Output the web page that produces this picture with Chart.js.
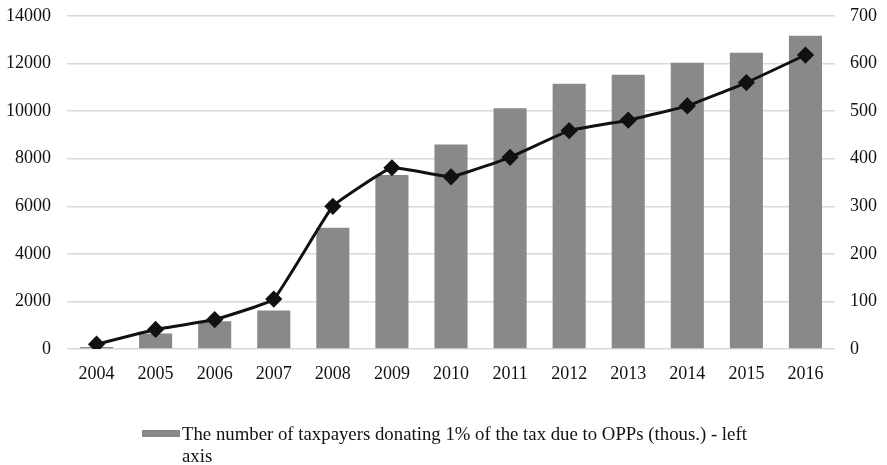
<!DOCTYPE html>
<html>
<head>
<meta charset="utf-8">
<script src="https://cdn.jsdelivr.net/npm/chart.js@4/dist/chart.umd.min.js"></script>
<style>
  html, body { margin: 0; padding: 0; background: #fff; }
  #wrap { position: relative; width: 887px; height: 465px; overflow: hidden; }
  #legend { position: absolute; left: 142px; top: 423px; font-family: "Liberation Serif", "Times New Roman", serif; font-size: 18.8px; line-height: 22px; color: #111; }
  #legend .sw { position: absolute; left: 0; top: 7px; width: 38px; height: 7px; background: #898989; }
  #legend .txt { margin-left: 40px; width: 590px; }
</style>
</head>
<body>
<div id="wrap">
  <canvas id="chart" width="887" height="465"></canvas>
  <div id="legend"><span class="sw"></span><div class="txt" id="legendText"></div></div>
</div>
<script>
const years = ['2004', '2005', '2006', '2007', '2008', '2009', '2010', '2011', '2012', '2013', '2014', '2015', '2016'];
// taxpayers donating 1% (thous.) - left axis
const taxpayers = [80, 650, 1170, 1620, 5100, 7320, 8600, 10120, 11150, 11530, 12030, 12450, 13170];
// amount transferred (right axis)
const amounts = [10, 41, 62, 105, 300, 381, 362, 403, 459, 481, 511, 560, 618];

const barLabel = 'The number of taxpayers donating 1% of the tax due to OPPs (thous.) - left axis';
const lineLabel = 'Amount transferred to OPPs - right axis';

const serif = '"Liberation Serif", "Times New Roman", serif';
const plain = (v) => String(v);

document.getElementById('legendText').textContent = barLabel;

// fixed axis sizes so the plot area sits where the original one does
const fixY = (w) => (s) => { s.width = w; s.paddingTop = 0; s.paddingBottom = 0; };

new Chart(document.getElementById('chart'), {
    data: {
        labels: years,
        datasets: [
            {
                type: 'line',
                label: lineLabel,
                data: amounts,
                yAxisID: 'y1',
                borderColor: '#111',
                borderWidth: 3,
                tension: 0.1,
                pointStyle: 'rectRot',
                pointRadius: 6.5,
                pointBackgroundColor: '#111',
                pointBorderColor: '#111',
                order: 0
            },
            {
                type: 'bar',
                label: barLabel,
                data: taxpayers,
                yAxisID: 'y',
                backgroundColor: '#898989',
                barPercentage: 0.56,
                categoryPercentage: 1,
                order: 1
            }
        ]
    },
    options: {
        responsive: false,
        animation: false,
        layout: { padding: { left: 6, right: 10, top: 16, bottom: 72 } },
        plugins: {
            tooltip: { enabled: false },
            legend: { display: false }
        },
        scales: {
            x: {
                grid: { display: false },
                border: { display: false },
                ticks: { font: { family: serif, size: 18 }, color: '#111', padding: 6, maxRotation: 0 },
                afterFit: (s) => { s.height = 44; s.paddingLeft = 0; s.paddingRight = 0; }
            },
            y: {
                position: 'left',
                min: 0,
                max: 14000,
                ticks: { stepSize: 2000, callback: plain, font: { family: serif, size: 18 }, color: '#111', padding: 16 },
                grid: { color: '#d9d9d9', lineWidth: 1.5, drawTicks: false },
                border: { display: false },
                afterFit: fixY(61)
            },
            y1: {
                position: 'right',
                min: 0,
                max: 700,
                ticks: { stepSize: 100, callback: plain, font: { family: serif, size: 18 }, color: '#111', padding: 15 },
                grid: { drawOnChartArea: false, drawTicks: false },
                border: { display: false },
                afterFit: fixY(42)
            }
        }
    }
});
</script>
</body>
</html>
